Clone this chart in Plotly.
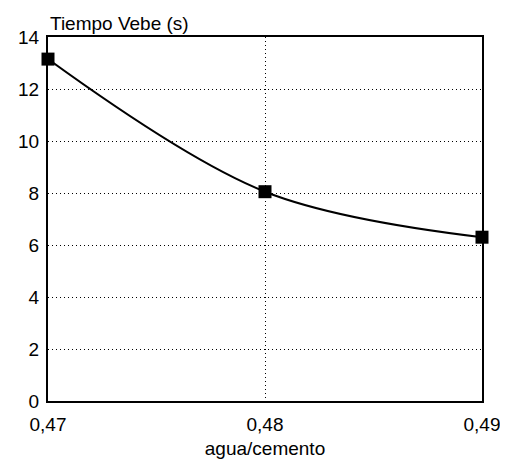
import plotly.graph_objects as go

ratio = [0.47, 0.48, 0.49]
vebe = [13.15, 8.05, 6.3]
x_ticks = [0.47, 0.48, 0.49]
x_tick_labels = ["0,47", "0,48", "0,49"]
y_ticks = [0, 2, 4, 6, 8, 10, 12, 14]

fig = go.Figure()
fig.add_trace(go.Scatter(
    x=ratio, y=vebe, mode="lines+markers",
    line=dict(color="black", width=2, shape="spline", smoothing=1.0),
    marker=dict(symbol="square", size=13, color="black"),
    showlegend=False, cliponaxis=False,
))

font = dict(family="Liberation Sans, Arial, sans-serif", size=19, color="black")
fig.update_layout(
    width=500, height=452,
    margin=dict(l=40, r=26, t=29, b=59, autoexpand=False),
    paper_bgcolor="white", plot_bgcolor="white",
    font=font,
    xaxis=dict(
        range=[0.47, 0.49], tickvals=x_ticks, ticktext=x_tick_labels,
        showline=True, linecolor="black", linewidth=2, mirror=True,
        showgrid=True, gridcolor="black", griddash="1px,3px", gridwidth=1,
        zeroline=False, ticks="outside", ticklen=5, tickcolor="rgba(0,0,0,0)",
        automargin=False,
        title=dict(text="agua/cemento", font=font, standoff=8),
    ),
    yaxis=dict(
        range=[0, 14], tickvals=y_ticks,
        showline=True, linecolor="black", linewidth=2, mirror=True,
        showgrid=True, gridcolor="black", griddash="1px,3px", gridwidth=1,
        zeroline=False, ticks="outside", ticklen=3, tickcolor="rgba(0,0,0,0)",
        automargin=False,
    ),
    annotations=[dict(
        text="Tiempo Vebe (s)", xref="paper", yref="paper",
        x=0.0, y=1.0, xanchor="left", yanchor="bottom", yshift=1,
        showarrow=False, font=font,
    )],
)
fig.write_html("out.html")
